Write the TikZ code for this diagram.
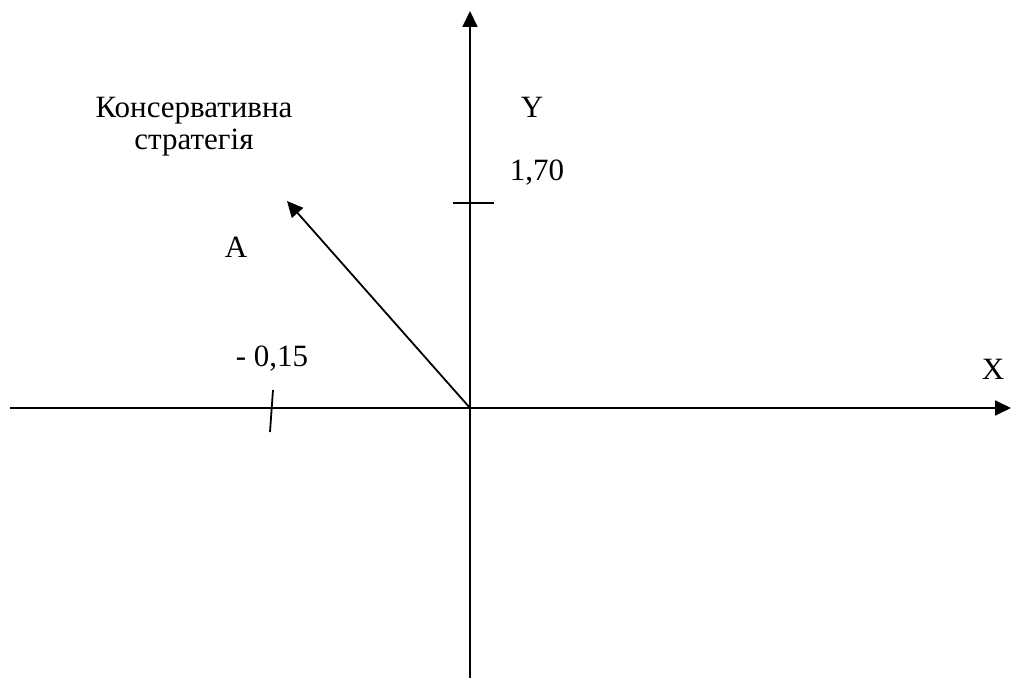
\documentclass[tikz,border=0pt]{standalone}
\usepackage{fontspec}
\setmainfont{Liberation Serif}
\usetikzlibrary{arrows.meta}
\begin{document}
\begin{tikzpicture}[x=0.5pt,y=-0.5pt,
  axis/.style={line width=0.9pt,-{Triangle[length=8pt,width=7.5pt]}},
  tick/.style={line width=0.9pt},
  lbl/.style={font=\fontsize{15.5}{16}\selectfont,inner sep=0pt}]
\useasboundingbox (0,0) rectangle (1012,678);
\coordinate (O) at (470,408);
\coordinate (xl) at (10,408);
\coordinate (xr) at (1011,408);
\coordinate (yb) at (470,678);
\coordinate (yt) at (470,11);
\coordinate (A) at (287,201);
\coordinate (ty1) at (453,203);
\coordinate (ty2) at (494,203);
\coordinate (tx1) at (273,390);
\coordinate (tx2) at (270,432);
\draw[axis] (xl) -- (xr);
\draw[axis] (yb) -- (yt);
\draw[axis] (O) -- (A);
\draw[tick] (ty1) -- (ty2);
\draw[tick] (tx1) -- (tx2);
\node[lbl,align=center] (ks) at (194,127) {Консервативна\\стратегія};
\node[lbl] (Y) at (532,107) {Y};
\node[lbl] (v170) at (537,173) {1,70};
\node[lbl] (Al) at (236,247) {A};
\node[lbl] (v015) at (272,359) {- 0,15};
\node[lbl] (X) at (993,369) {X};
\end{tikzpicture}
\end{document}
